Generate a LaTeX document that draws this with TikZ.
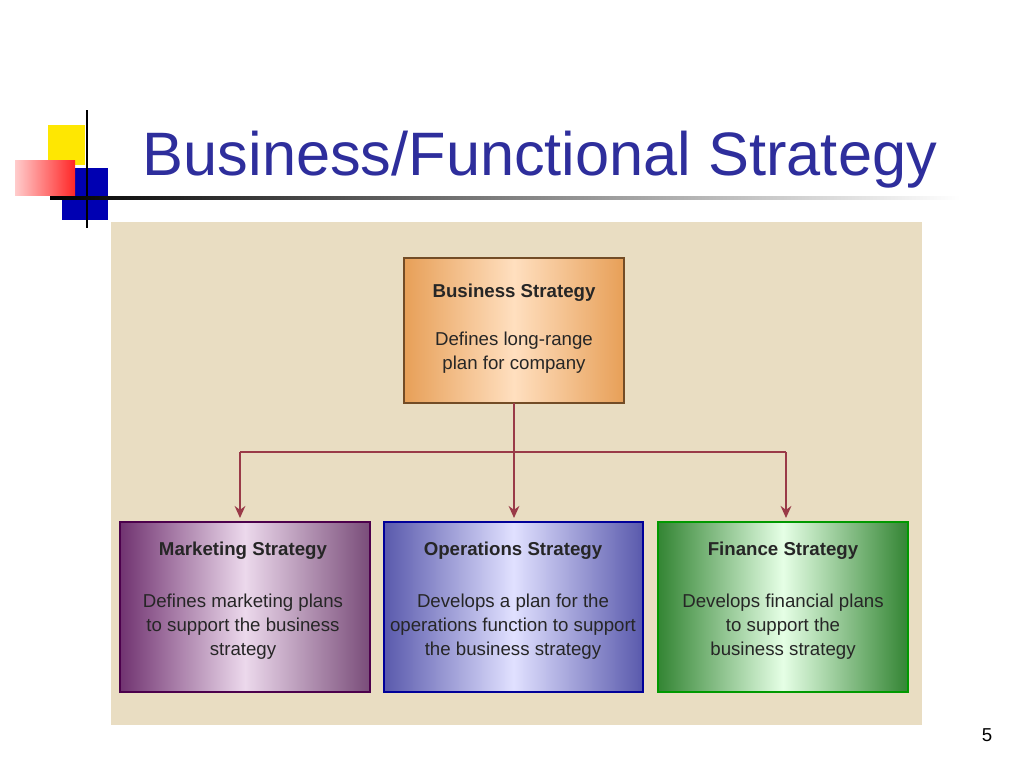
\documentclass[tikz,border=0pt]{standalone}
\usepackage{fontspec}
\setmainfont{Liberation Sans}
\usetikzlibrary{arrows.meta}
\definecolor{ttl}{HTML}{2E2E9C}
\definecolor{panel}{HTML}{E9DDC2}
\definecolor{conn}{HTML}{9A3A48}
\tikzset{
 box/.style={draw=#1!60!black, line width=1.2pt, align=center, inner sep=0pt},
 hd/.style={font=\fontsize{14}{17}\selectfont\bfseries, text=black!85},
 bd/.style={font=\fontsize{14}{18}\selectfont, text=black!85, align=center},
 conn/.style={draw=conn, line width=2.2pt},
 arr/.style={conn, -{Stealth[length=9pt,width=8pt]}}
}
\begin{document}
\begin{tikzpicture}[x=0.75pt,y=-0.75pt]
\useasboundingbox (0,0) rectangle (1024,768);
% logo
\fill[yellow!90!orange] (48,125) rectangle (85,165);
\fill[blue!70!black] (62,168) rectangle (108,220);
\shade[left color=red!20, right color=red!85] (15,160) rectangle (75,195);
\draw[black, line width=2pt] (87,110) -- (87,228);
\shade[left color=black, right color=white] (50,196) rectangle (960,199);
\node[anchor=base west, text=ttl, font=\fontsize{46}{50}\selectfont] (title) at (138,175) {Business/Functional Strategy};
% panel
\fill[panel] (111,222) rectangle (922,725);
% business
\shade[left color=orange!50!brown!75, right color=orange!50!brown!75, middle color=orange!25!white] (404,258) rectangle (624,403);
\draw[box=brown] (404,258) rectangle (624,403);
\node[hd] (bh) at (514,293) {Business Strategy};
\node[bd] (bb) at (514,353) {Defines long-range\\plan for company};
\node (bus) at (514,330) [minimum width=165pt, minimum height=109pt] {};
% marketing
\shade[left color=violet!60!black!80, right color=violet!50!black!70, middle color=violet!15!white] (120,522) rectangle (370,692);
\draw[box=violet] (120,522) rectangle (370,692);
\node[hd] (mh) at (243,551) {Marketing Strategy};
\node[bd] (mb) at (243,627) {Defines marketing plans\\to support the business\\strategy};
\node (mkt) at (245,607) [minimum width=187pt, minimum height=127pt] {};
% operations
\shade[left color=blue!50!black!65, right color=blue!50!black!65, middle color=blue!12!white] (384,522) rectangle (643,692);
\draw[box=blue] (384,522) rectangle (643,692);
\node[hd] (oh) at (513,551) {Operations Strategy};
\node[bd] (ob) at (513,627) {Develops a plan for the\\operations function to support\\the business strategy};
\node (ops) at (513,607) [minimum width=194pt, minimum height=127pt] {};
% finance
\shade[left color=green!40!black!80, right color=green!40!black!80, middle color=green!10!white] (658,522) rectangle (908,692);
\draw[box=green] (658,522) rectangle (908,692);
\node[hd] (fh) at (783,551) {Finance Strategy};
\node[bd] (fb) at (783,627) {Develops financial plans\\to support the\\business strategy};
\node (fin) at (783,607) [minimum width=187pt, minimum height=127pt] {};
% connectors
\coordinate (j) at (514,452);
\coordinate (jl) at (240,452);
\coordinate (jr) at (786,452);
\draw[conn] (bus.south) -- (j);
\draw[conn] (jl) -- (jr);
\draw[arr] (j) -- (514,518);
\draw[arr] (jl) -- (240,518);
\draw[arr] (jr) -- (786,518);
\node[font=\fontsize{14}{16}\selectfont] (pg) at (987,735) {5};
\end{tikzpicture}
\end{document}
